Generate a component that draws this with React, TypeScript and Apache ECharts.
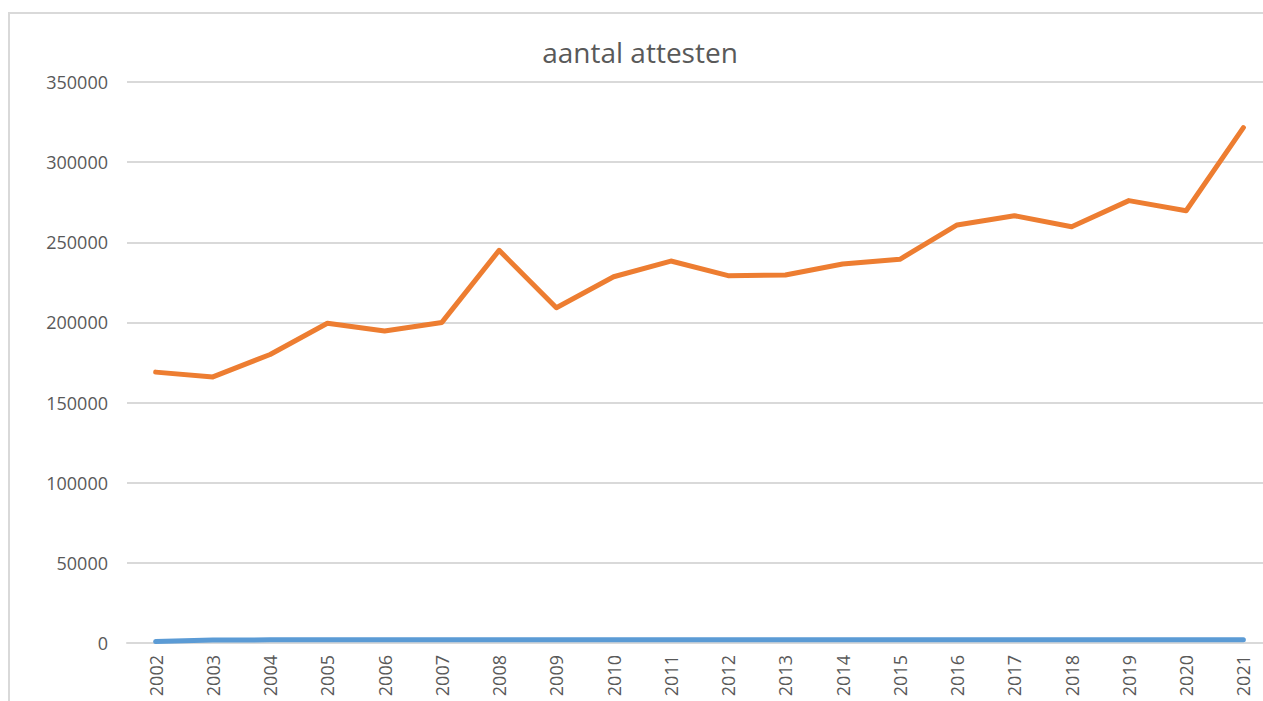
import React, { useEffect, useRef } from "react";
import * as echarts from "echarts";

const years = ["2002","2003","2004","2005","2006","2007","2008","2009","2010","2011","2012","2013","2014","2015","2016","2017","2018","2019","2020","2021"];
const orangeSeries = [169000,166000,180000,199500,194700,200000,245000,209200,228500,238300,229200,229600,236500,239400,260800,266600,259700,276000,269700,321500];
const blueSeries = [900,1900,1950,1950,1950,1950,1950,1950,1950,1950,1950,1950,1950,1950,1950,1950,1950,1950,1950,1950];
const yTicks = { min: 0, max: 350000, interval: 50000 };
const title = "aantal attesten";

export default function App() {
  const ref = useRef<HTMLDivElement>(null);
  useEffect(() => {
    if (!ref.current) return;
    const chart = echarts.init(ref.current, null, { renderer: "svg" });
    chart.setOption({
      animation: false,
      backgroundColor: "#ffffff",
      graphic: [
        {
          type: "rect",
          shape: { x: 9, y: 13, width: 1400, height: 1000 },
          style: { fill: "none", stroke: "#d9d9d9", lineWidth: 2 },
          silent: true,
          z: -1,
        },
        {
          type: "text",
          x: 640,
          y: 52,
          style: {
            text: title,
            fontFamily: "Open Sans",
            fontSize: 28,
            fontWeight: "normal",
            fill: "#595959",
            textAlign: "center",
            textVerticalAlign: "middle",
          },
          z: 10,
        },
      ],
      grid: { left: 127, right: 18, top: 82, bottom: 58 },
      xAxis: {
        type: "category",
        data: years,
        boundaryGap: true,
        axisLine: { show: true, lineStyle: { color: "#d9d9d9", width: 2 } },
        axisTick: { show: false },
        axisLabel: {
          rotate: 90,
          margin: 12,
          fontFamily: "Open Sans",
          fontSize: 18,
          color: "#595959",
        },
      },
      yAxis: {
        type: "value",
        min: yTicks.min,
        max: yTicks.max,
        interval: yTicks.interval,
        axisLine: { show: false },
        axisTick: { show: false },
        splitLine: { lineStyle: { color: "#d9d9d9", width: 2 } },
        axisLabel: {
          margin: 19,
          fontFamily: "Open Sans",
          fontSize: 18,
          color: "#595959",
          formatter: (v: number) => String(v),
        },
      },
      series: [
        {
          name: "blue",
          type: "line",
          data: blueSeries,
          symbol: "none",
          lineStyle: { color: "#5B9BD5", width: 5, cap: "round", join: "round" },
          z: 3,
        },
        {
          name: "orange",
          type: "line",
          data: orangeSeries,
          symbol: "none",
          lineStyle: { color: "#ED7D31", width: 5, cap: "round", join: "round" },
          z: 4,
        },
      ],
    });
    return () => chart.dispose();
  }, []);
  return (
    <div style={{ position: "fixed", left: 0, top: 0, width: 1263, height: 701, overflow: "hidden", background: "#fff" }}>
      <div ref={ref} style={{ width: 1290, height: 701 }} />
    </div>
  );
}
